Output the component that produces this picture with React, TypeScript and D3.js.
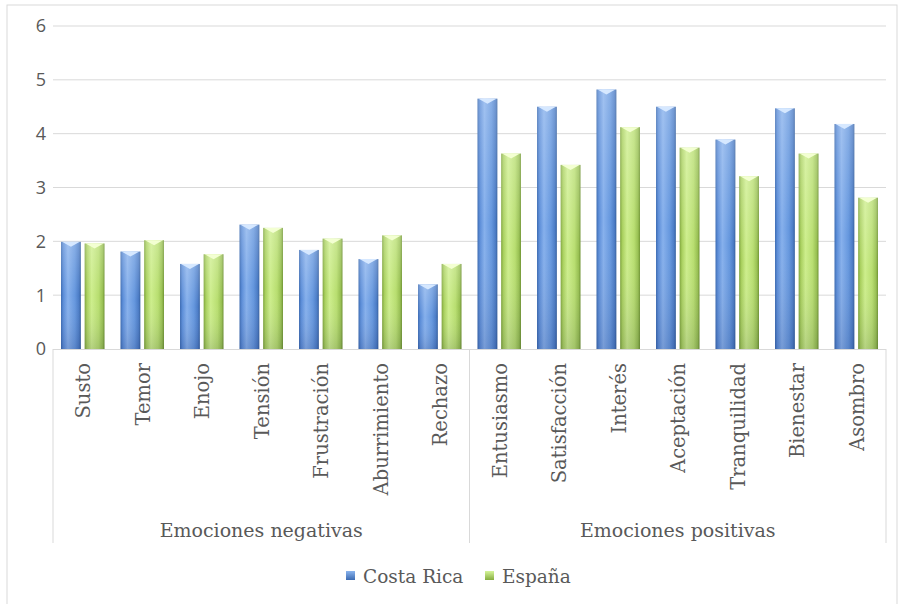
import React from "react";
import * as d3 from "d3";

const categories = [
  "Susto", "Temor", "Enojo", "Tensión", "Frustración", "Aburrimiento", "Rechazo",
  "Entusiasmo", "Satisfacción", "Interés", "Aceptación", "Tranquilidad", "Bienestar", "Asombro",
];
const groups = ["Emociones negativas", "Emociones positivas"];
const groupSizes = [7, 7];
const costaRica = [1.99, 1.81, 1.58, 2.31, 1.84, 1.67, 1.2, 4.65, 4.5, 4.82, 4.5, 3.89, 4.47, 4.18];
const espana = [1.96, 2.02, 1.76, 2.25, 2.05, 2.11, 1.58, 3.63, 3.42, 4.12, 3.74, 3.21, 3.63, 2.81];
const seriesNames = ["Costa Rica", "España"];
const yTicks = [0, 1, 2, 3, 4, 5, 6];

const W = 899, H = 604;
const left = 53, right = 886, top = 26, bottom = 349;
const serif = "'DejaVu Serif', serif";
const sans = "'Open Sans', 'Liberation Sans', sans-serif";
const textColor = "#595959";
const gridColor = "#d9d9d9";

export default function App() {
  const x = d3.scaleBand<string>().domain(categories).range([left, right]).padding(0);
  const bw = x.bandwidth();
  const inner = d3.scaleBand<string>().domain(seriesNames).range([8, bw - 8]).paddingInner(0.16).paddingOuter(0);
  const y = d3.scaleLinear().domain([0, 6]).range([bottom, top]);
  const series = [costaRica, espana];
  const ids = ["gBlue", "gGreen"];
  const tips = ["#d6e8ff", "#f3ffd2"];

  let acc = 0;
  const groupBounds = groupSizes.map((n) => {
    const s = acc;
    acc += n;
    return [x(categories[s])!, x(categories[acc - 1])! + bw];
  });
  const sepBottom = 543;

  return (
    <svg width={W} height={H} style={{ position: "absolute", left: 0, top: 0, background: "#fff" }}>
      <defs>
        <linearGradient id="gBlue" x1="0" x2="1" y1="0" y2="0">
          <stop offset="0" stopColor="#3c6bb2" />
          <stop offset="0.12" stopColor="#5b8dd8" />
          <stop offset="0.35" stopColor="#86b0ec" />
          <stop offset="0.7" stopColor="#6597de" />
          <stop offset="0.9" stopColor="#4b7cc6" />
          <stop offset="1" stopColor="#35609f" />
        </linearGradient>
        <linearGradient id="gGreen" x1="0" x2="1" y1="0" y2="0">
          <stop offset="0" stopColor="#7fa53c" />
          <stop offset="0.12" stopColor="#a9d05e" />
          <stop offset="0.35" stopColor="#cdee8c" />
          <stop offset="0.7" stopColor="#b8de70" />
          <stop offset="0.9" stopColor="#98c052" />
          <stop offset="1" stopColor="#6f9432" />
        </linearGradient>
        <linearGradient id="gShade" x1="0" x2="0" y1="0" y2="1">
          <stop offset="0" stopColor="#ffffff" stopOpacity="0.22" />
          <stop offset="0.5" stopColor="#ffffff" stopOpacity="0" />
          <stop offset="1" stopColor="#000030" stopOpacity="0.12" />
        </linearGradient>
        <linearGradient id="lBlue" x1="0" x2="0" y1="0" y2="1">
          <stop offset="0" stopColor="#8ab4ee" />
          <stop offset="1" stopColor="#3c6bb2" />
        </linearGradient>
        <linearGradient id="lGreen" x1="0" x2="0" y1="0" y2="1">
          <stop offset="0" stopColor="#d6f59a" />
          <stop offset="1" stopColor="#86ad40" />
        </linearGradient>
      </defs>

      <rect x={7} y={5} width={890} height={610} fill="#fff" stroke={gridColor} strokeWidth={1} />

      {yTicks.map((t) => (
        <g key={t}>
          {t > 0 && (
            <line x1={left} x2={right} y1={y(t)} y2={y(t)} stroke={gridColor} strokeWidth={1} />
          )}
          <text x={46} y={y(t)} dy="0.36em" textAnchor="end" fontFamily={sans} fontSize={18} fill={textColor}>
            {t}
          </text>
        </g>
      ))}

      {categories.map((c, i) => (
        <g key={c}>
          {series.map((vals, s) => {
            const bx = x(c)! + inner(seriesNames[s])!;
            const w = inner.bandwidth();
            const by = y(vals[i]);
            const h = y(0) - by;
            return (
              <g key={s}>
                <rect x={bx} y={by} width={w} height={h} fill={`url(#${ids[s]})`} />
                <rect x={bx} y={by} width={w} height={h} fill="url(#gShade)" />
                <polygon
                  points={`${bx + 1},${by} ${bx + w - 1},${by} ${bx + w / 2},${by + 5}`}
                  fill={tips[s]}
                />
              </g>
            );
          })}
        </g>
      ))}

      <line x1={left} x2={right} y1={bottom + 0.5} y2={bottom + 0.5} stroke={gridColor} strokeWidth={1} />
      {[left, groupBounds[0][1], right].map((gx, i) => (
        <line key={i} x1={gx} x2={gx} y1={bottom} y2={sepBottom} stroke={gridColor} strokeWidth={1} />
      ))}

      {categories.map((c) => {
        const cx = x(c)! + bw / 2 + 1;
        return (
          <text
            key={c}
            transform={`translate(${cx},${363}) rotate(-90)`}
            textAnchor="end"
            dominantBaseline="central"
            fontFamily={serif}
            fontSize={19.5}
            fill={textColor}
          >
            {c}
          </text>
        );
      })}

      {groups.map((g, i) => (
        <text
          key={g}
          x={(groupBounds[i][0] + groupBounds[i][1]) / 2}
          y={537}
          textAnchor="middle"
          fontFamily={serif}
          fontSize={19}
          fill={textColor}
        >
          {g}
        </text>
      ))}

      {seriesNames.map((n, s) => {
        const lx = [346, 485][s];
        return (
          <g key={n}>
            <rect x={lx} y={571} width={9} height={9} fill={`url(#${s === 0 ? "lBlue" : "lGreen"})`} />
            <text x={lx + 17} y={583} fontFamily={serif} fontSize={18.5} fill={textColor}>
              {n}
            </text>
          </g>
        );
      })}
    </svg>
  );
}
